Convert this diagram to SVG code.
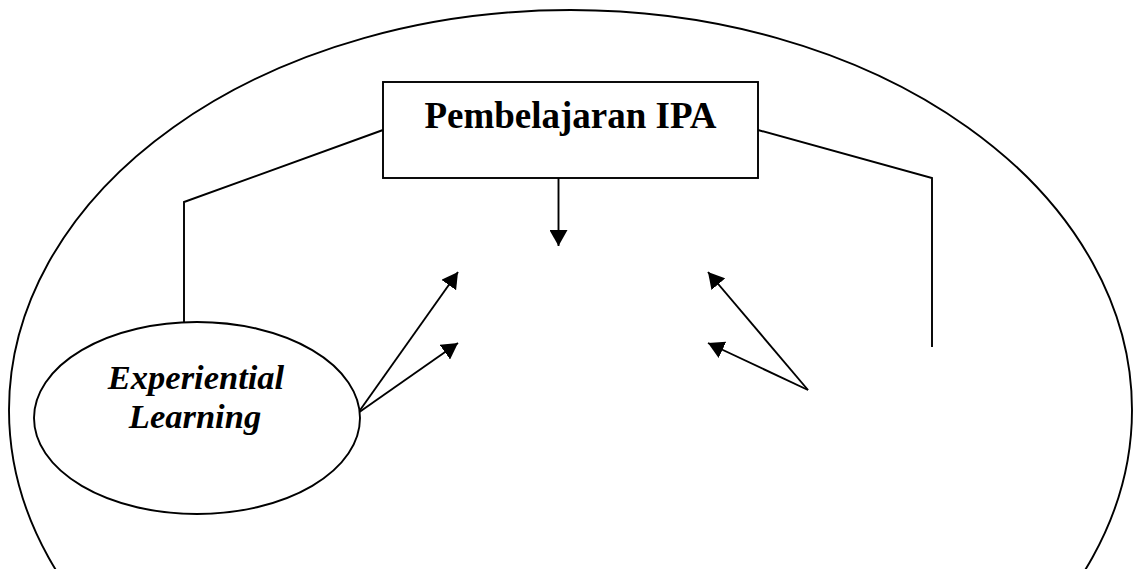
<svg xmlns="http://www.w3.org/2000/svg" width="1133" height="569" viewBox="0 0 1133 569">
  <style>
    .shape { fill: none; stroke: #000; stroke-width: 1.9; }
    .box { fill: #fff; stroke: #000; stroke-width: 1.9; }
    .link { fill: none; stroke: #000; stroke-width: 1.9; }
    .title { font-family: "Liberation Serif", "Times New Roman", serif; font-weight: bold; font-size: 37px; fill: #000; }
    .label { font-family: "Liberation Serif", "Times New Roman", serif; font-weight: bold; font-style: italic; font-size: 34.5px; fill: #000; }
  </style>
  <defs>
    <marker id="arrow" viewBox="0 0 16 18" refX="16" refY="9" markerWidth="16" markerHeight="18" markerUnits="userSpaceOnUse" orient="auto">
      <path d="M0,0 L16,9 L0,18 Z" fill="#000"/>
    </marker>
  </defs>

  <rect width="1133" height="569" fill="#fff"/>

  <!-- outer frame ellipse -->
  <g id="frame">
    <ellipse class="shape" cx="570.5" cy="410" rx="561.5" ry="400"/>
  </g>

  <!-- connectors -->
  <g id="connectors">
    <polyline class="link" points="383,130 184,202 184,322"/>
    <polyline class="link" points="758,130 932,178 932,347"/>
    <line class="link" x1="558.5" y1="174" x2="558.5" y2="246" marker-end="url(#arrow)"/>
    <line class="link" x1="358" y1="413" x2="458" y2="272" marker-end="url(#arrow)"/>
    <line class="link" x1="358" y1="413" x2="458" y2="343" marker-end="url(#arrow)"/>
    <line class="link" x1="808" y1="390" x2="708" y2="272" marker-end="url(#arrow)"/>
    <line class="link" x1="808" y1="390" x2="708" y2="343" marker-end="url(#arrow)"/>
  </g>

  <g id="pembelajaran-ipa">
    <rect class="box" x="383" y="82" width="375" height="96"/>
    <text class="title" x="570.5" y="128" text-anchor="middle">Pembelajaran IPA</text>
  </g>

  <g id="experiential-learning">
    <ellipse class="box" cx="197" cy="418" rx="163" ry="96"/>
    <text class="label" x="196" y="389" text-anchor="middle">Experiential</text>
    <text class="label" x="195" y="428" text-anchor="middle">Learning</text>
  </g>
</svg>
